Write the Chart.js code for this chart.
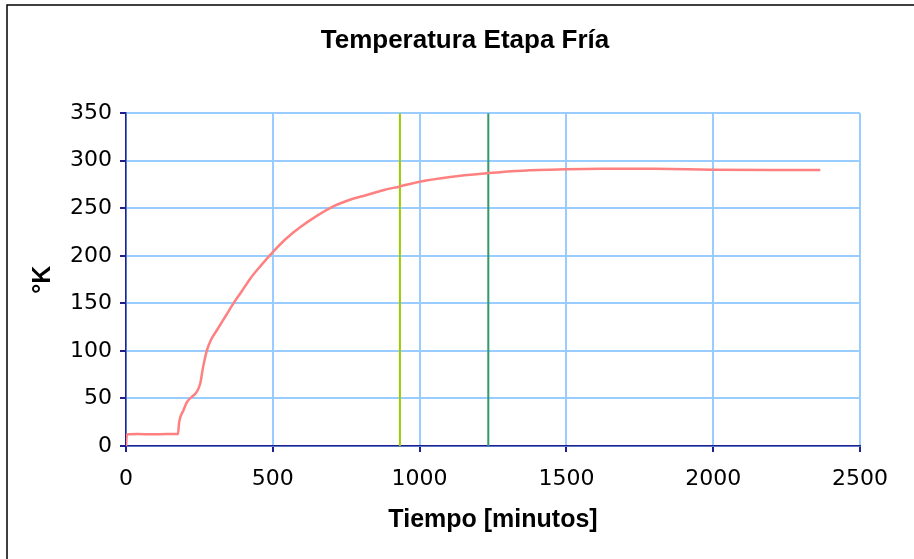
<!DOCTYPE html>
<html>
<head>
<meta charset="utf-8">
<script src="https://cdn.jsdelivr.net/npm/chart.js@4.4.1/dist/chart.umd.min.js"></script>
<style>
  html, body { margin: 0; padding: 0; background: #fff; }
  #wrap { width: 914px; height: 559px; }
</style>
</head>
<body>
<div id="wrap"><canvas id="chart" width="914" height="559"></canvas></div>
<script>
// ─── Datos ────────────────────────────────────────────────
const tiempo = [0, 3, 40, 90, 140, 177, 181, 195, 207, 225, 241, 253, 262, 276, 290, 310, 340, 366, 395, 423, 460, 500,
  545, 593, 650, 706, 763, 820, 876, 933, 1000, 1104, 1234, 1331, 1444, 1617, 1800, 2000, 2200, 2365];
const temperatura = [0, 12, 12.5, 12.3, 12.6, 12.5, 25, 37, 46, 52, 57, 66, 82, 101, 112, 122, 137, 150, 163, 176, 190, 204,
  218, 230, 242, 252, 259, 264, 269, 273, 278, 283, 287, 289.3, 290.6, 291.6, 291.5, 290.6, 290.2, 290.3];

// líneas verticales de referencia (minutos)
const marcas = [933, 1234];
const marcasColor = ['#99CC00', '#339966'];

const xTicks = [0, 500, 1000, 1500, 2000, 2500];
const yTicks = [0, 50, 100, 150, 200, 250, 300, 350];

const NAVY = '#1F1F8F';
const GRID = '#99CCFF';

// ─── Borde exterior del gráfico ──────────────────────────
const marco = {
  id: 'marco',
  beforeDraw(chart) {
    const ctx = chart.ctx;
    ctx.save();
    ctx.fillStyle = '#fff';
    ctx.fillRect(0, 0, chart.width, chart.height);
    ctx.strokeStyle = '#000';
    ctx.lineWidth = 1.5;
    ctx.strokeRect(7, 5, chart.width + 20, chart.height + 20);
    ctx.restore();
  }
};

const datasets = [{
  data: tiempo.map((t, i) => ({ x: t, y: temperatura[i] })),
  borderColor: '#FF8080',
  borderWidth: 2.5,
  pointRadius: 0,
  cubicInterpolationMode: 'monotone',
  order: 0
}];
marcas.forEach((m, i) => {
  datasets.push({
    data: [{ x: m, y: 0 }, { x: m, y: 350 }],
    borderColor: marcasColor[i],
    borderWidth: 2,
    pointRadius: 0,
    order: 1
  });
});

const tickFont = { family: 'DejaVu Sans', size: 22 };

new Chart(document.getElementById('chart'), {
  type: 'line',
  data: { datasets },
  plugins: [marco],
  options: {
    responsive: false,
    animation: false,
    layout: { padding: { left: 16, right: 0, top: 0, bottom: 0 } },
    plugins: {
      legend: { display: false },
      tooltip: { enabled: false },
      title: {
        display: true,
        text: 'Temperatura Etapa Fría',
        color: '#000',
        font: { family: 'Liberation Sans', size: 26, weight: 'bold' },
        padding: { top: 25, bottom: 57 }
      }
    },
    scales: {
      x: {
        type: 'linear',
        min: 0, max: 2500,
        afterBuildTicks: s => { s.ticks = xTicks.map(v => ({ value: v })); },
        afterFit: s => { s.height = 113; },
        grid: { color: GRID, lineWidth: 2, tickColor: NAVY, tickLength: 6, drawTicks: true },
        border: { color: NAVY, width: 1.5 },
        ticks: { color: '#000', font: tickFont, padding: 14, maxRotation: 0, callback: v => String(v) },
        title: {
          display: true, text: 'Tiempo [minutos]', color: '#000',
          font: { family: 'Liberation Sans', size: 25, weight: 'bold' },
          padding: { top: 0, bottom: 24 }
        }
      },
      y: {
        min: 0, max: 350,
        afterBuildTicks: s => { s.ticks = yTicks.map(v => ({ value: v })); },
        afterFit: s => { s.width = 110; },
        grid: { color: GRID, lineWidth: 2, tickColor: NAVY, tickLength: 6, drawTicks: true },
        border: { color: NAVY, width: 1.5 },
        ticks: { color: '#000', font: tickFont, padding: 8, callback: v => String(v) },
        title: {
          display: true, text: '°K', color: '#000',
          font: { family: 'Liberation Sans', size: 25, weight: 'bold' },
          padding: { top: 12, bottom: 0 }
        }
      },
      // eje vacío a la derecha, solo reserva el margen
      derecha: {
        position: 'right',
        afterFit: s => { s.width = 54; },
        grid: { display: false },
        border: { display: false },
        ticks: { display: false }
      }
    }
  }
});
</script>
</body>
</html>
